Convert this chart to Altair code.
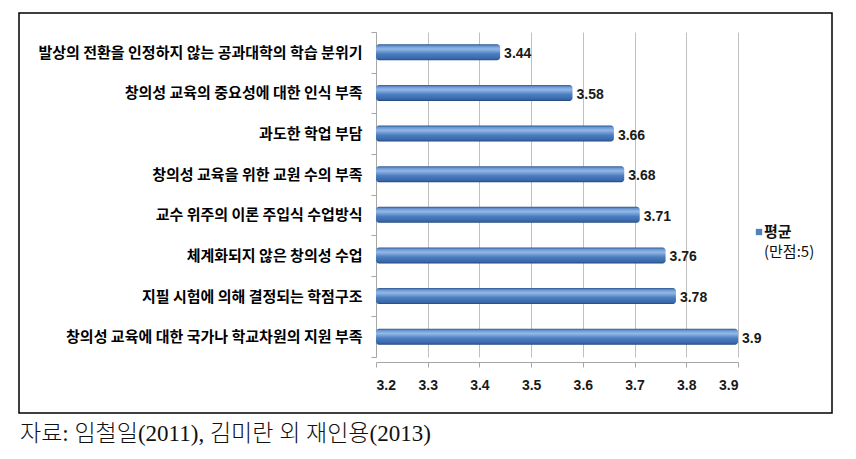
import altair as alt
import pandas as pd

categories = [
    "발상의 전환을 인정하지 않는 공과대학의 학습 분위기",
    "창의성 교육의 중요성에 대한 인식 부족",
    "과도한 학업 부담",
    "창의성 교육을 위한 교원 수의 부족",
    "교수 위주의 이론 주입식 수업방식",
    "체계화되지 않은 창의성 수업",
    "지필 시험에 의해 결정되는 학점구조",
    "창의성 교육에 대한 국가나 학교차원의 지원 부족",
]
values = [3.44, 3.58, 3.66, 3.68, 3.71, 3.76, 3.78, 3.9]
value_labels = ["3.44", "3.58", "3.66", "3.68", "3.71", "3.76", "3.78", "3.9"]
x_ticks = [3.2, 3.3, 3.4, 3.5, 3.6, 3.7, 3.8, 3.9]
legend_lines = ["평균", "(만점:5)"]
source_note = "자료: 임철일(2011), 김미란 외 재인용(2013)"

df = pd.DataFrame({"cat": categories, "val": values, "lab": value_labels, "base": [3.2] * len(values)})

W, H = 362, 325
LEFT, TOP = 376, 32

x_scale = alt.Scale(domain=[3.2, 3.9], nice=False, zero=False)
y_sort = categories

grad = alt.LinearGradient(
    gradient="linear", x1=0, x2=0, y1=0, y2=1,
    stops=[
        alt.GradientStop(offset=0.0, color="#2c568f"),
        alt.GradientStop(offset=0.12, color="#6a98d4"),
        alt.GradientStop(offset=0.3, color="#94b8e6"),
        alt.GradientStop(offset=0.6, color="#4b7ec0"),
        alt.GradientStop(offset=0.9, color="#3767a8"),
        alt.GradientStop(offset=1.0, color="#22467a"),
    ],
)

bars = alt.Chart(df).mark_bar(color=grad, height=16, cornerRadiusEnd=3).encode(
    x=alt.X("base:Q", scale=x_scale,
            axis=alt.Axis(values=x_ticks, format=".1f", title=None, grid=True, gridColor="#c0c0c0",
                          domainColor="#a6a6a6", tickColor="#a6a6a6", tickSize=5, labelPadding=11,
                          labelFont="Liberation Sans", labelFontSize=14,
                          labelFontWeight="bold", labelColor="#1a1a1a", offset=5)),
    x2="val:Q",
    y=alt.Y("cat:N", sort=y_sort,
            scale=alt.Scale(paddingInner=0, paddingOuter=0),
            axis=alt.Axis(title=None, tickBand="extent", domainColor="#a6a6a6", tickColor="#a6a6a6",
                          tickSize=5, labelPadding=9, labelFont="Noto Sans CJK KR", labelFontSize=15,
                          labelFontWeight="bold", labelColor="#000000", labelLimit=400)),
)

texts = alt.Chart(df).mark_text(align="left", baseline="middle", dx=4, dy=2,
                                font="Liberation Sans", fontSize=14, fontWeight="bold",
                                color="#1a1a1a").encode(
    x=alt.X("val:Q", scale=x_scale),
    y=alt.Y("cat:N", sort=y_sort),
    text="lab:N",
)

one = alt.Data(values=[{"a": 0}])

frame = alt.Chart(one).mark_rect(fill=None, stroke="black", strokeWidth=1.5, clip=False).encode(
    x=alt.value(19 - LEFT), x2=alt.value(832 - LEFT), y=alt.value(13 - TOP), y2=alt.value(413 - TOP)
)

leg_sym = alt.Chart(one).mark_square(size=40, color="#4f81bd", opacity=1).encode(
    x=alt.value(759 - LEFT), y=alt.value(232 - TOP)
)
leg_t1 = alt.Chart(one).mark_text(align="left", baseline="middle", font="Noto Sans CJK KR",
                                  fontSize=15, fontWeight="bold", color="#111111",
                                  text=legend_lines[0]).encode(
    x=alt.value(764 - LEFT), y=alt.value(232 - TOP)
)
leg_t2 = alt.Chart(one).mark_text(align="left", baseline="middle", font="Noto Sans CJK KR",
                                  fontSize=15, color="#111111", text=legend_lines[1]).encode(
    x=alt.value(764 - LEFT), y=alt.value(252 - TOP)
)
note = alt.Chart(one).mark_text(align="left", baseline="middle", font="Liberation Serif, Noto Sans CJK KR",
                                fontSize=23, fontWeight=300, color="#111111", text=source_note).encode(
    x=alt.value(20 - LEFT), y=alt.value(434 - TOP)
)

chart = alt.layer(bars, texts, frame, leg_sym, leg_t1, leg_t2, note).properties(
    width=W, height=H,
    padding={"left": LEFT, "top": TOP, "right": 856 - LEFT - W, "bottom": 459 - TOP - H},
    autosize=alt.AutoSizeParams(type="none"),
    background="white",
).configure_view(stroke=None)

chart.save("out.html", embed_options={"renderer": "svg", "actions": False})
